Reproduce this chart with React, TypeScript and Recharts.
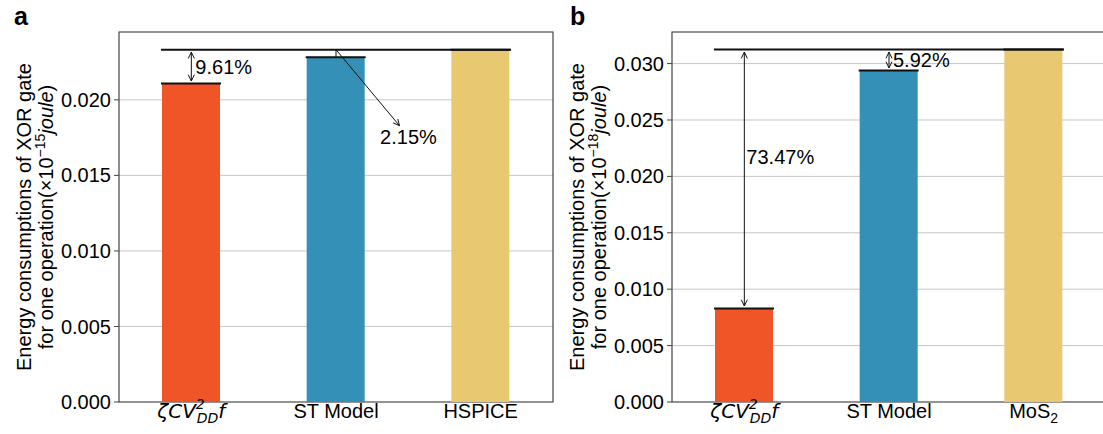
import {
  Bar,
  BarChart,
  CartesianGrid,
  Cell,
  ReferenceArea,
  ReferenceDot,
  ReferenceLine,
  XAxis,
  YAxis,
} from 'recharts';

// panel a: 10^-15 J
const categoriesA = ['zeta', 'ST Model', 'HSPICE'];
const energyA = [0.02108, 0.02282, 0.02332];
const ticksA = [0, 0.005, 0.01, 0.015, 0.02];

// panel b: 10^-18 J
const categoriesB = ['zeta', 'ST Model', 'MoS2'];
const energyB = [0.00829, 0.02939, 0.03124];
const ticksB = [0, 0.005, 0.01, 0.015, 0.02, 0.025, 0.03];

const COLORS = ['#ef5527', '#3590b7', '#e8c972'];
const FONT = '"Liberation Sans", Arial, Helvetica, sans-serif';
const GRID = '#c6c6c6';
const FRAME = '#444';

type Arrow = { x1: number; y1: number; x2: number; y2: number; heads: 'both' | 'end' | 'none' };
type Note = { x: number; y: number; text: string; dx: number; dy: number };

const refA = energyA[2];
const arrowsA: Arrow[] = [
  { x1: 0, y1: refA, x2: 0, y2: energyA[0], heads: 'both' },
  { x1: 1, y1: energyA[1], x2: 1, y2: refA, heads: 'none' },
  { x1: 1, y1: refA, x2: 1.45, y2: 0.01816, heads: 'end' },
];
const notesA: Note[] = [
  { x: 0, y: (refA + energyA[0]) / 2, text: '9.61%', dx: 4, dy: 0 },
  { x: 1.45, y: 0.01816, text: '2.15%', dx: -21, dy: 9 },
];

const refB = energyB[2];
const arrowsB: Arrow[] = [
  { x1: 0, y1: refB, x2: 0, y2: energyB[0], heads: 'both' },
  { x1: 1, y1: refB, x2: 1, y2: energyB[1], heads: 'both' },
];
const notesB: Note[] = [
  { x: 0, y: 0.02169, text: '73.47%', dx: 2, dy: 0 },
  { x: 1, y: (refB + energyB[1]) / 2, text: '5.92%', dx: 4, dy: 0 },
];

function head(tx: number, ty: number, ang: number) {
  const L = 7;
  const a = 0.45;
  const p1 = [tx - L * Math.cos(ang - a), ty - L * Math.sin(ang - a)];
  const p2 = [tx - L * Math.cos(ang + a), ty - L * Math.sin(ang + a)];
  return `M${p1[0]},${p1[1]}L${tx},${ty}L${p2[0]},${p2[1]}`;
}

function arrowShape(heads: Arrow['heads']) {
  return (p: any) => {
    let { x1, y1, x2, y2 } = p;
    const ang = Math.atan2(y2 - y1, x2 - x1);
    const s = 2.5;
    if (heads === 'both') {
      x1 += s * Math.cos(ang);
      y1 += s * Math.sin(ang);
    }
    if (heads !== 'none') {
      x2 -= s * Math.cos(ang);
      y2 -= s * Math.sin(ang);
    }
    let d = `M${x1},${y1}L${x2},${y2}`;
    if (heads !== 'none') d += head(x2, y2, ang);
    if (heads === 'both') d += head(x1, y1, ang + Math.PI);
    return <path d={d} stroke="#111" strokeWidth={1} fill="none" />;
  };
}

function CappedBar(props: any) {
  const { x, y, width, height, fill } = props;
  return (
    <g>
      <rect x={x} y={y} width={width} height={height} fill={fill} />
      <line x1={x - 1} x2={x + width + 1} y1={y} y2={y} stroke="#111" strokeWidth={2} />
    </g>
  );
}

function CatTick({ x, y, payload }: any) {
  const v = payload.value;
  const base = y + 16;
  if (v === 'zeta') {
    return (
      <text x={x} y={base} textAnchor="middle" fontSize={20} fill="#000" fontFamily='"DejaVu Sans", sans-serif' fontStyle="italic">
        <tspan>ζCV</tspan>
        <tspan fontSize={14} dy={-9}>2</tspan>
        <tspan fontSize={14} dx={-8} dy={14}>DD</tspan>
        <tspan dy={-5}>f</tspan>
      </text>
    );
  }
  if (v === 'MoS2') {
    return (
      <text x={x} y={base} textAnchor="middle" fontSize={20} fill="#000">
        <tspan>MoS</tspan>
        <tspan fontSize={14} dy={5}>2</tspan>
      </text>
    );
  }
  return (
    <text x={x} y={base} textAnchor="middle" fontSize={20} fill="#000">
      {v}
    </text>
  );
}

function YTitle({ letter, letterX, exp }: { letter: string; letterX: number; exp: string }) {
  return (props: any) => {
    const cy = 217;
    return (
      <g fill="#000">
        <text x={letterX} y={25} fontSize={25} fontWeight="bold">
          {letter}
        </text>
        <text x={31} y={cy} fontSize={20} textAnchor="middle" transform={`rotate(-90, 31, ${cy})`}>
          Energy consumptions of XOR gate
        </text>
        <text x={53} y={cy} fontSize={20} textAnchor="middle" transform={`rotate(-90, 53, ${cy})`}>
          <tspan>for one operation(×10</tspan>
          <tspan fontSize={14} dy={-8}>{exp}</tspan>
          <tspan dy={8} fontStyle="italic">joule</tspan>
          <tspan>)</tspan>
        </text>
      </g>
    );
  };
}

function Panel(props: {
  letter: string;
  letterX: number;
  exp: string;
  categories: string[];
  values: number[];
  ticks: number[];
  yMax: number;
  arrows: Arrow[];
  notes: Note[];
}) {
  const { categories, values, ticks, yMax, arrows, notes } = props;
  const data = categories.map((name, i) => ({ name, idx: i, value: values[i] }));
  const ref = values[2];
  return (
    <BarChart width={560} height={434} data={data} margin={{ top: 32, right: 7, left: 0, bottom: 0 }}>
      <CartesianGrid vertical={false} stroke={GRID} strokeWidth={1} />
      <XAxis
        dataKey="name"
        tick={<CatTick />}
        tickLine={false}
        axisLine={false}
        tickSize={0}
        tickMargin={0}
        height={32}
        interval={0}
      />
      <XAxis xAxisId="n" dataKey="idx" type="number" domain={[-0.5, 2.5]} allowDataOverflow hide />
      <YAxis
        domain={[0, yMax]}
        ticks={ticks}
        allowDataOverflow
        width={119}
        tickFormatter={(v: number) => v.toFixed(3)}
        tick={{ fill: '#000', fontSize: 20 }}
        tickSize={5}
        tickMargin={3}
        tickLine={{ stroke: FRAME }}
        axisLine={false}
        label={{ content: YTitle({ letter: props.letter, letterX: props.letterX, exp: props.exp }) }}
      />
      <Bar dataKey="value" barSize={58} isAnimationActive={false} shape={<CappedBar />}>
        {data.map((d, i) => (
          <Cell key={d.name} fill={COLORS[i]} />
        ))}
      </Bar>
      <ReferenceLine
        xAxisId="n"
        segment={[
          { x: -0.21, y: ref },
          { x: 2.21, y: ref },
        ]}
        stroke="#111"
        strokeWidth={2}
      />
      {arrows.map((a, i) => (
        <ReferenceLine
          key={`a${i}`}
          xAxisId="n"
          segment={[
            { x: a.x1, y: a.y1 },
            { x: a.x2, y: a.y2 },
          ]}
          shape={arrowShape(a.heads)}
        />
      ))}
      {notes.map((n, i) => (
        <ReferenceDot
          key={`n${i}`}
          xAxisId="n"
          x={n.x}
          y={n.y}
          r={0}
          shape={(p: any) => (
            <text x={p.cx + n.dx} y={p.cy + n.dy} dy="0.35em" fontSize={20} fill="#000">
              {n.text}
            </text>
          )}
        />
      ))}
      <ReferenceArea xAxisId="n" x1={-0.5} x2={2.5} y1={0} y2={yMax} fill="none" stroke={FRAME} strokeWidth={1.2} />
    </BarChart>
  );
}

export default function App() {
  return (
    <div
      style={{
        position: 'absolute',
        left: 0,
        top: 0,
        width: 1103,
        height: 434,
        overflow: 'hidden',
        background: '#fff',
        fontFamily: FONT,
      }}
    >
      <div style={{ position: 'absolute', left: 0, top: 0 }}>
        <Panel
          letter="a"
          letterX={14}
          exp="−15"
          categories={categoriesA}
          values={energyA}
          ticks={ticksA}
          yMax={0.02449}
          arrows={arrowsA}
          notes={notesA}
        />
      </div>
      <div style={{ position: 'absolute', left: 553, top: 0 }}>
        <Panel
          letter="b"
          letterX={17}
          exp="−18"
          categories={categoriesB}
          values={energyB}
          ticks={ticksB}
          yMax={0.0328}
          arrows={arrowsB}
          notes={notesB}
        />
      </div>
    </div>
  );
}
